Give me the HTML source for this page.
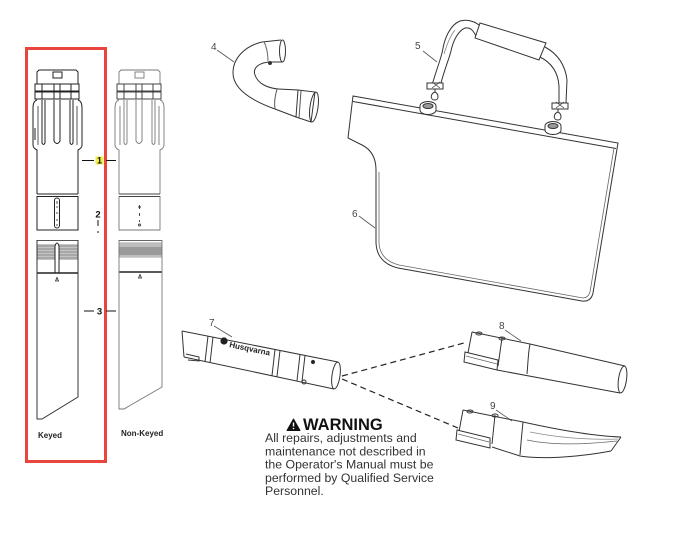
<!DOCTYPE html>
<html><head><meta charset="utf-8"><style>
html,body{margin:0;padding:0;background:#fff;}
svg{display:block;}
</style></head><body>
<svg width="693" height="550" viewBox="0 0 693 550" xmlns="http://www.w3.org/2000/svg" font-family="Liberation Sans, Arial, sans-serif">
<rect width="693" height="550" fill="#fff"/>

<!-- Red highlight box -->
<rect x="26.5" y="48.5" width="79" height="413" fill="none" stroke="#e8463d" stroke-width="3"/>

<!-- ===== Keyed upper tube ===== -->
<g fill="none" stroke="#222" stroke-width="1">
  <path d="M37,84 L37,72 L39,70 L76,70 L78,72 L78,84"/>
  <rect x="53" y="72" width="9" height="6"/>
  <rect x="35" y="84" width="44" height="7"/>
  <rect x="35" y="92" width="44" height="7"/>
  <path d="M42,84V99 M54,84V99 M60,84V99 M71,84V99"/>
  <path d="M37,100 Q33,101 33,108 L33,145 Q33,148 37,150 L37,194"/>
  <path d="M78,100 Q82,101 82,108 L82,145 Q82,148 78,150 L78,194"/>
  <path d="M38,106 V145 M77,106 V145" stroke="#555"/>
  <path d="M35,128 V140"/>
  <path d="M42,100 L42,143 Q43.5,146 45,143 L45,100"/>
  <path d="M54,100 L54,141 Q57,146 60,141 L60,100"/>
  <path d="M70,100 L70,143 Q71.5,146 73,143 L73,100"/>
  <path d="M37,194 H78 M37,196.5 H78"/>
  <path d="M37,196 V230 H78 V196"/>
  <rect x="54.5" y="198" width="5" height="30" rx="2.5"/>
  <path d="M57,201 V204 M56,207 H58 M57,212 V214 M57,219 V221 M57,224 V226" stroke-width="0.8"/>
</g>

<!-- ===== Non-keyed upper tube ===== -->
<g fill="none" stroke="#777" stroke-width="0.9" transform="translate(82,0)">
  <path d="M37,84 L37,72 L39,70 L76,70 L78,72 L78,84"/>
  <rect x="53" y="72" width="9" height="6"/>
  <rect x="35" y="84" width="44" height="7" stroke="#333"/>
  <rect x="35" y="92" width="44" height="7" stroke="#333"/>
  <path d="M42,84V99 M54,84V99 M60,84V99 M71,84V99" stroke="#333"/>
  <path d="M37,100 Q33,101 33,108 L33,145 Q33,148 37,150 L37,194"/>
  <path d="M78,100 Q82,101 82,108 L82,145 Q82,148 78,150 L78,194"/>
  <path d="M38,106 V145 M77,106 V145"/>
  <path d="M42,100 L42,143 Q43.5,146 45,143 L45,100"/>
  <path d="M54,100 L54,141 Q57,146 60,141 L60,100"/>
  <path d="M70,100 L70,143 Q71.5,146 73,143 L73,100"/>
  <path d="M37,194 H78 M37,196.5 H78" stroke="#444"/>
  <path d="M37,196 V230 H78 V196"/>
  <path d="M57.5,205 V209 M56,207 H59 M57.5,213 V216 M57.5,220 V222" stroke="#333"/>
  <circle cx="57.5" cy="225" r="1" stroke="#333"/>
</g>

<!-- ===== Keyed lower tube ===== -->
<g>
  <rect x="37" y="244" width="41" height="16" fill="#c4c4c4"/>
  <path d="M37,246H78 M37,249H78 M37,252H78 M37,255H78 M37,258H78" stroke="#8a8a8a" stroke-width="1"/>
  <path d="M55,273 L55,246 Q57,240 59,246 L59,273 Z" fill="#fff" stroke="#222" stroke-width="1"/>
  <path d="M37,240.5 H78" stroke="#555" stroke-width="1"/>
  <path d="M37,273 H78" stroke="#222" stroke-width="1.6"/>
  <path d="M37,240 L37,419 L42,419 L78,397 L78,240" fill="none" stroke="#333" stroke-width="1"/>
  <path d="M55.5,281 L57,277.5 L58.5,281 Z" fill="none" stroke="#222" stroke-width="0.8"/>
</g>

<!-- ===== Non-keyed lower tube ===== -->
<g>
  <rect x="119" y="242" width="43" height="16" fill="#d0d0d0"/>
  <rect x="119" y="247" width="43" height="8" fill="#9a9a9a"/>
  <path d="M119,244H162 M119,246H162 M119,256H162" stroke="#aaa" stroke-width="1"/>
  <path d="M119,240.5 H162" stroke="#666" stroke-width="1"/>
  <path d="M119,272 H162" stroke="#222" stroke-width="1.6"/>
  <path d="M119,240 L119,409 L124,409 L162,387 L162,240" fill="none" stroke="#777" stroke-width="0.9"/>
  <path d="M138.5,278 L140,274.5 L141.5,278 Z" fill="none" stroke="#222" stroke-width="0.8"/>
</g>

<!-- Labels 1,2,3 -->
<rect x="95.5" y="156.5" width="8" height="8" fill="#f3ee46"/>
<text x="99.5" y="163.5" font-size="9" font-weight="bold" text-anchor="middle" fill="#111">1</text>
<path d="M82,160.5 H94 M106,160.5 H116" stroke="#111" stroke-width="1"/>
<text x="98" y="217.5" font-size="9.5" font-weight="bold" text-anchor="middle" fill="#111">2</text>
<path d="M98,220 V226" stroke="#111" stroke-width="1"/>
<path d="M98,231 V233" stroke="#111" stroke-width="1"/>
<text x="99.5" y="314.5" font-size="9.5" font-weight="bold" text-anchor="middle" fill="#111">3</text>
<path d="M84,311 H94 M106,311 H116" stroke="#111" stroke-width="1"/>

<text x="38" y="438" font-size="8" font-weight="bold" fill="#222">Keyed</text>
<text x="121" y="436" font-size="8" font-weight="bold" fill="#222">Non-Keyed</text>

<!-- ===== Hose 4 ===== -->
<g fill="none" stroke="#333" stroke-width="1">
  <text x="211" y="50" font-size="10" fill="#444" stroke="none">4</text>
  <path d="M217,50 L234,62" stroke="#555" stroke-width="0.8"/>
  <path d="M262,42 C245,46 233,58 233,73 C233,88 250,100 275,109"/>
  <path d="M271,62 C261,62 252,67 255,75 C258,84 268,88 278,89"/>
  <path d="M262,42 L281,40"/>
  <path d="M271,62 L283,62"/>
  <ellipse cx="282.5" cy="51" rx="3" ry="11"/>
  <path d="M264,41.5 C267,48 268,55 268,61" stroke="#666"/>
  <circle cx="270" cy="63" r="1.5" fill="#333"/>
  <path d="M278,89 L298,90 L296,117 L275,109"/>
  <path d="M277,89 C275,96 274,103 275,109" stroke="#555"/>
  <path d="M298,90 L315,92 L311,122 L296,117"/>
  <path d="M301,91 L299,118" stroke="#555"/>
  <ellipse cx="314" cy="107" rx="4" ry="15" transform="rotate(8 314 107)"/>
</g>

<!-- ===== Strap 5 ===== -->
<g fill="none" stroke="#333" stroke-width="1">
  <text x="415" y="49" font-size="10" fill="#444" stroke="none">5</text>
  <path d="M423,51 L437,62" stroke="#555" stroke-width="0.8"/>
  <path d="M433,82 C437,68 442,56 443,48 C445,38 450,25 460,21 C466,19 474,21 479,25"/>
  <path d="M441,83 C444,71 449,59 451,51 C453,41 458,31 465,28 C470,27 473,30 476,36"/>
  <path d="M444,54 C447,44 450,36 455,30" stroke="#777" stroke-width="0.7"/>
  <polygon points="480,23 546,43 539,60 475,38" fill="#fff"/>
  <path d="M545,47 C556,53 565,63 567,80 L566,103"/>
  <path d="M540,57 C550,62 558,71 559,86 L559,103"/>
  <rect x="427" y="83" width="16" height="6" fill="#fff"/>
  <path d="M432,82 L440,88 M440,82 L432,88" stroke-width="0.7"/>
  <path d="M435,89 V92"/>
  <path d="M435,92 C430,94 430,100 435,100 C439,100 439,94 435,92 Z"/>
  <rect x="552" y="103" width="16" height="6" fill="#fff"/>
  <path d="M556,102 L564,108 M564,102 L556,108" stroke-width="0.7"/>
  <path d="M558,109 V112"/>
  <path d="M558,112 C553,114 553,120 558,120 C562,120 562,114 558,112 Z"/>
</g>

<!-- ===== Bag 6 ===== -->
<g fill="none" stroke="#333" stroke-width="1">
  <path d="M353,96 L618,143 L593,293 Q591,302 582,301 L398,268 Q377,263 376,243 L376,170 Q376,152 362,145 L348,138 Z"/>
  <path d="M353,101.5 L616,148.5"/>
  <path d="M379,172 L379,243 Q380,260 399,265 L583,298 Q588,298 590,292 L614,148" stroke="#666" stroke-width="0.8"/>
  <ellipse cx="428" cy="106" rx="8" ry="4.5" fill="#fff"/>
  <path d="M420,106 v4 a8,4.5 0 0 0 16,0 v-4" fill="#fff"/>
  <ellipse cx="428" cy="106" rx="5" ry="2.5" fill="#999"/>
  <ellipse cx="553" cy="126" rx="8" ry="4.5" fill="#fff"/>
  <path d="M545,126 v4 a8,4.5 0 0 0 16,0 v-4" fill="#fff"/>
  <ellipse cx="553" cy="126" rx="5" ry="2.5" fill="#999"/>
  <text x="352" y="217" font-size="10" fill="#444" stroke="none">6</text>
  <path d="M359,216 L375,228" stroke="#555" stroke-width="0.8"/>
</g>

<!-- ===== Tube 7 ===== -->
<g fill="none" stroke="#333" stroke-width="1">
  <text x="209" y="326" font-size="10" fill="#444" stroke="none">7</text>
  <path d="M214,326 L232,337" stroke="#555" stroke-width="0.8"/>
  <path d="M182,331 L338,362"/>
  <path d="M184,357 L334,389"/>
  <path d="M182,331 L184,357"/>
  <ellipse cx="336" cy="375.5" rx="4" ry="13.5" transform="rotate(8 336 375.5)"/>
  <path d="M208,336 L205,362 M213,337 L210,363 M275,349.5 L272,375.5 M280,350.5 L277,376.5 M300,354.5 L297,380.5 M305,355.5 L302,381.5"/>
  <path d="M186,354 L199,357 L199,361 L188,360"/>
  <circle cx="313" cy="362" r="1.6" fill="#222"/>
  <circle cx="304" cy="382" r="2"/>
  <circle cx="224" cy="341" r="3.6" fill="#222" stroke="none"/>
  <text x="229" y="347" font-size="8" font-weight="bold" fill="#222" stroke="none" transform="rotate(12 229 347)">Husqvarna</text>
</g>

<!-- Dashed connectors -->
<path d="M342,376 L464,343" stroke="#222" stroke-width="1.2" stroke-dasharray="6,4" fill="none"/>
<path d="M342,379 L458,428" stroke="#222" stroke-width="1.2" stroke-dasharray="6,4" fill="none"/>

<!-- ===== Tube 8 ===== -->
<g fill="none" stroke="#333" stroke-width="1">
  <text x="499" y="329" font-size="10" fill="#444" stroke="none">8</text>
  <path d="M505,330 L521,341" stroke="#555" stroke-width="0.8"/>
  <path d="M472,332 L530,344 L625,366"/>
  <path d="M472,332 L467,358"/>
  <path d="M497,370 L620,393"/>
  <path d="M530,344 C528,354 528,364 527,374"/>
  <path d="M502,338 L498,366"/>
  <ellipse cx="622.5" cy="379.5" rx="4" ry="13.5" transform="rotate(8 622.5 379.5)"/>
  <path d="M465,352 L498,360 L497,370 L464,362 Z" fill="#fff"/>
  <path d="M466,356 L497,364" stroke="#666" stroke-width="0.7"/>
  <ellipse cx="479" cy="333.5" rx="3" ry="1.5"/>
  <ellipse cx="502" cy="338.5" rx="3" ry="1.5"/>
</g>

<!-- ===== Tube 9 ===== -->
<g fill="none" stroke="#333" stroke-width="1">
  <text x="490" y="409" font-size="10" fill="#444" stroke="none">9</text>
  <path d="M496,410 L512,421" stroke="#555" stroke-width="0.8"/>
  <path d="M463,410 L523,422 C550,428 590,436 621,437"/>
  <path d="M463,410 L458,437"/>
  <path d="M492,447 L520,456 C545,460 585,456 611,451"/>
  <path d="M621,437 L611,451"/>
  <path d="M523,422 C522,432 521,442 520,455"/>
  <path d="M495,415 L492,444"/>
  <path d="M527,440 C555,446 590,444 617,441" stroke="#666" stroke-width="0.8"/>
  <path d="M530,432 C560,438 590,440 618,439" stroke="#888" stroke-width="0.7"/>
  <path d="M457,430 L490,438 L490,448 L456,440 Z" fill="#fff"/>
  <path d="M458,434 L489,442" stroke="#666" stroke-width="0.7"/>
  <ellipse cx="470" cy="411.5" rx="3" ry="1.5"/>
  <ellipse cx="495" cy="415.5" rx="3" ry="1.5"/>
</g>

<!-- ===== Warning ===== -->
<g>
  <path d="M293.5,419 L300,430.5 L287,430.5 Z" fill="#111" stroke="#111" stroke-width="1" stroke-linejoin="round"/>
  <path d="M293.5,422.5 V426.5" stroke="#fff" stroke-width="1.4"/>
  <circle cx="293.5" cy="428.5" r="0.8" fill="#fff"/>
  <text x="303" y="430" font-size="16.5" font-weight="bold" fill="#111">WARNING</text>
  <g font-size="12.3" fill="#333">
    <text x="265" y="442">All repairs, adjustments and</text>
    <text x="265" y="455.3">maintenance not described in</text>
    <text x="265" y="468.6">the Operator's Manual must be</text>
    <text x="265" y="481.9">performed by Qualified Service</text>
    <text x="265" y="495.2">Personnel.</text>
  </g>
</g>
</svg>
</body></html>
